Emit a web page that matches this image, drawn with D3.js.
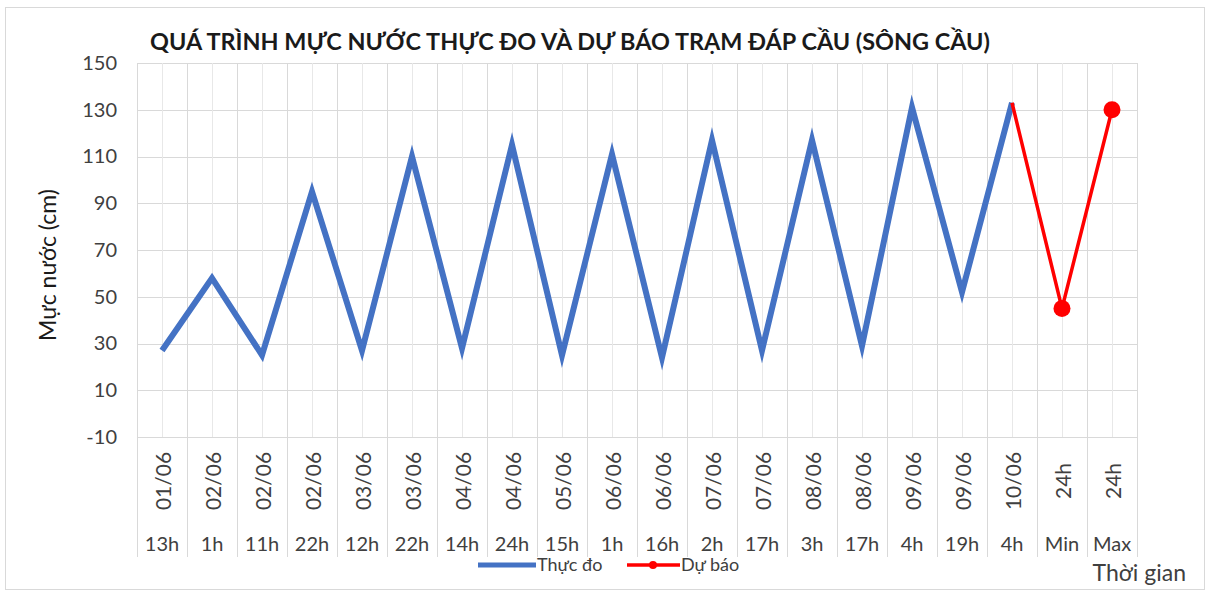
<!DOCTYPE html>
<html>
<head>
<meta charset="utf-8">
<script src="https://cdn.jsdelivr.net/npm/d3@7"></script>
<style>
  body { margin: 0; background: #fff; }
  svg { font-family: Lato, "Open Sans", sans-serif; }
</style>
</head>
<body>
<script>
// data
const dates = ["01/06", "02/06", "02/06", "02/06", "03/06", "03/06", "04/06", "04/06", "05/06", "06/06",
               "06/06", "07/06", "07/06", "08/06", "08/06", "09/06", "09/06", "10/06", "24h", "24h"];
const hours = ["13h", "1h", "11h", "22h", "12h", "22h", "14h", "24h", "15h", "1h",
               "16h", "2h", "17h", "3h", "17h", "4h", "19h", "4h", "Min", "Max"];
const observed = [27, 58, 25, 95, 27, 110, 28, 115, 25, 111, 24, 117, 27, 117, 29, 131, 52, 133, null, null];
const forecast = [null, null, null, null, null, null, null, null, null, null,
                  null, null, null, null, null, null, null, 133, 45, 130];
const yTicks = [-10, 10, 30, 50, 70, 90, 110, 130, 150];

const W = 1207, H = 591;
const plot = { left: 137, right: 1137, top: 63, bottom: 437 };

const svg = d3.select("body").append("svg")
    .attr("width", W)
    .attr("height", H);

// chart frame
svg.append("rect")
    .attr("x", 5.5).attr("y", 7.5)
    .attr("width", 1199).attr("height", 582)
    .attr("fill", "#fff")
    .attr("stroke", "#d9d9d9");

const idx = d3.range(dates.length);
const x = d3.scaleBand()
    .domain(idx)
    .range([plot.left, plot.right])
    .paddingInner(0).paddingOuter(0);
const cx = i => x(i) + x.bandwidth() / 2;

const y = d3.scaleLinear()
    .domain([-10, 150])
    .range([plot.bottom, plot.top]);

// horizontal grid
svg.append("g")
    .selectAll("line")
    .data(yTicks)
    .enter().append("line")
    .attr("x1", plot.left).attr("x2", plot.right)
    .attr("y1", d => Math.round(y(d)) + 0.5)
    .attr("y2", d => Math.round(y(d)) + 0.5)
    .attr("stroke", "#d9d9d9");

// vertical grid: category centres (minor) and boundaries (major)
svg.append("g")
    .selectAll("line")
    .data(idx)
    .enter().append("line")
    .attr("x1", d => Math.round(cx(d)) + 0.5)
    .attr("x2", d => Math.round(cx(d)) + 0.5)
    .attr("y1", plot.top).attr("y2", plot.bottom)
    .attr("stroke", "#e8e8e8");

const bounds = idx.map(i => x(i)).concat([plot.right]);
svg.append("g")
    .selectAll("line")
    .data(bounds)
    .enter().append("line")
    .attr("x1", d => Math.round(d) + 0.5)
    .attr("x2", d => Math.round(d) + 0.5)
    .attr("y1", plot.top).attr("y2", 557)
    .attr("stroke", "#d9d9d9");

// y axis labels
const yAxis = svg.append("g")
    .attr("transform", `translate(${plot.left - 20},0)`)
    .call(d3.axisLeft(y).tickValues(yTicks).tickFormat(d => String(d)).tickSize(0).tickPadding(0));
yAxis.select(".domain").remove();
yAxis.selectAll("text")
    .attr("fill", "#404040")
    .style("font-size", "20px")
    .style("font-family", "Lato, sans-serif");

// x axis: hour row
const hourAxis = svg.append("g")
    .attr("transform", `translate(0,537)`)
    .call(d3.axisBottom(x).tickFormat(i => hours[i]).tickSize(0).tickPadding(0));
hourAxis.select(".domain").remove();
hourAxis.selectAll("text")
    .attr("fill", "#404040")
    .style("font-size", "20px")
    .style("font-family", "Lato, sans-serif");

// x axis: rotated date row
svg.append("g")
    .selectAll("text")
    .data(idx)
    .enter().append("text")
    .attr("transform", d => `translate(${cx(d)},481) rotate(-90)`)
    .attr("text-anchor", "middle")
    .attr("dominant-baseline", "central")
    .attr("fill", "#404040")
    .style("font-size", "21px")
    .text(d => dates[d]);

// series
const line = d3.line()
    .defined(d => d.v != null)
    .x(d => cx(d.i))
    .y(d => y(d.v));

svg.append("path")
    .datum(observed.map((v, i) => ({ i, v })))
    .attr("d", line)
    .attr("fill", "none")
    .attr("stroke", "#4472C4")
    .attr("stroke-width", 6)
    .attr("stroke-linejoin", "miter")
    .attr("stroke-miterlimit", 10);

svg.append("path")
    .datum(forecast.map((v, i) => ({ i, v })))
    .attr("d", line)
    .attr("fill", "none")
    .attr("stroke", "#FF0000")
    .attr("stroke-width", 3.5)
    .attr("stroke-miterlimit", 10);

svg.append("g")
    .selectAll("circle")
    .data(forecast.map((v, i) => ({ i, v })).filter(d => d.v != null && observed[d.i] == null))
    .enter().append("circle")
    .attr("cx", d => cx(d.i))
    .attr("cy", d => y(d.v))
    .attr("r", 8.5)
    .attr("fill", "#FF0000");

// title, fitted to the reference width
const title = svg.append("text")
    .attr("x", 570)
    .attr("y", 50)
    .attr("text-anchor", "middle")
    .attr("fill", "#1a1a1a")
    .style("font-size", "22px")
    .style("font-weight", "bold")
    .text("QUÁ TRÌNH MỰC NƯỚC THỰC ĐO VÀ DỰ BÁO TRẠM ĐÁP CẦU (SÔNG CẦU)");
const tw = title.node().getComputedTextLength();
title.style("font-size", (22 * 840 / tw).toFixed(2) + "px");

// y axis title
svg.append("text")
    .attr("transform", "translate(47,265) rotate(-90)")
    .attr("text-anchor", "middle")
    .attr("dominant-baseline", "central")
    .attr("fill", "#1a1a1a")
    .style("font-size", "23px")
    .text("Mực nước (cm)");

// x axis title
svg.append("text")
    .attr("x", 1186)
    .attr("y", 581)
    .attr("text-anchor", "end")
    .attr("fill", "#404040")
    .style("font-size", "23px")
    .text("Thời gian");

// legend
const legend = svg.append("g");
legend.append("line")
    .attr("x1", 478).attr("x2", 536)
    .attr("y1", 565).attr("y2", 565)
    .attr("stroke", "#4472C4").attr("stroke-width", 5);
legend.append("text")
    .attr("x", 537).attr("y", 571)
    .attr("fill", "#404040")
    .style("font-size", "18px")
    .text("Thực đo");
legend.append("line")
    .attr("x1", 627).attr("x2", 680)
    .attr("y1", 565).attr("y2", 565)
    .attr("stroke", "#FF0000").attr("stroke-width", 3.5);
legend.append("circle")
    .attr("cx", 653).attr("cy", 565).attr("r", 4)
    .attr("fill", "#FF0000");
legend.append("text")
    .attr("x", 681).attr("y", 571)
    .attr("fill", "#404040")
    .style("font-size", "18px")
    .text("Dự báo");
</script>
</body>
</html>
